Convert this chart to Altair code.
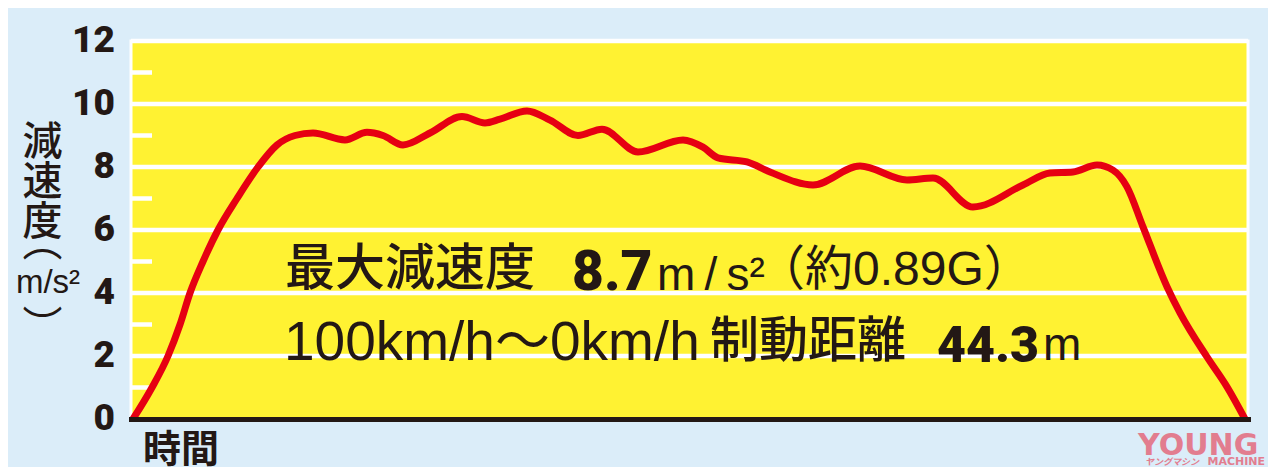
import altair as alt
import pandas as pd

# ---------------- data ----------------
time_steps = [2, 21, 37, 49, 59, 72, 87, 106, 127, 146, 164, 182, 214, 236, 252, 272, 299,
              331, 354, 369, 396, 419, 447, 471, 507, 552, 572, 587, 616, 639, 682,
              729, 776, 802, 842, 892, 919, 942, 966, 982, 996, 1012, 1036, 1049,
              1076, 1096, 1114]
decel = [0.0, 1.0, 2.0, 3.0, 4.0, 5.0, 6.0, 7.0, 8.0, 8.7, 9.0, 9.08, 8.86, 9.1, 9.0, 8.7, 9.08,
         9.6, 9.4, 9.52, 9.78, 9.49, 9.0, 9.2, 8.48, 8.86, 8.63, 8.29, 8.16, 7.84, 7.43,
         8.03, 7.59, 7.65, 6.73, 7.43, 7.81, 7.84, 8.06, 7.9, 7.37, 6.1, 4.2, 3.37,
         1.97, 1.02, 0.0]
time_range = [0, 1117]
y_range = [0, 12]
major_ticks = [0, 2, 4, 6, 8, 10, 12]
grid_values = [2, 4, 6, 8, 10, 12]
minor_ticks = [1, 3, 5, 7, 9, 11]

# ---------------- styles ----------------
YELLOW = "#fff232"
RED = "#e60012"
BLUE_BG = "#dbedf9"
INK = "#231815"
PINK = "#e27d8f"
CJK = "Noto Sans CJK JP"
SANS = "Liberation Sans, Noto Sans CJK JP"
HEAVY = "Roboto, Liberation Sans"

W, H = 1117, 378

x_scale = alt.Scale(domain=time_range, nice=False, zero=False)
y_scale = alt.Scale(domain=y_range, nice=False)

curve = pd.DataFrame({"t": time_steps, "a": decel})
grid_df = pd.DataFrame({"v": grid_values})
minor_df = pd.DataFrame({"v": minor_ticks})
tick_df = pd.DataFrame({"v": major_ticks})

grid = alt.Chart(grid_df).mark_rule(color="white", strokeWidth=4.5).encode(
    y=alt.Y("v:Q", scale=y_scale, axis=None)
)
minor = alt.Chart(minor_df).mark_rule(color="white", strokeWidth=4.5).encode(
    y=alt.Y("v:Q", scale=y_scale, axis=None),
    x=alt.value(0),
    x2=alt.value(21),
)

line = alt.Chart(curve).mark_line(color=RED, strokeWidth=7, interpolate="monotone").encode(
    x=alt.X("t:Q", scale=x_scale,
            axis=alt.Axis(title=None, labels=False, ticks=False, grid=False,
                          domainColor=INK, domainWidth=5, domainCap="square", zindex=1)),
    y=alt.Y("a:Q", scale=y_scale,
            axis=alt.Axis(title=None, labels=False, ticks=False, grid=False,
                          domainColor=INK, domainWidth=5, domainCap="square", zindex=1)),
)

ylabels = alt.Chart(tick_df).mark_text(
    align="right", baseline="middle", font=HEAVY, fontSize=37, fontWeight=900, color=INK
).encode(
    y=alt.Y("v:Q", scale=y_scale, axis=None),
    x=alt.value(-16),
    text=alt.Text("v:Q", format="d"),
)


def label(text, x, y, size, font, weight="normal", align="left",
          baseline="alphabetic", color=INK, angle=0, style="normal"):
    return alt.Chart(pd.DataFrame({"k": [0]})).mark_text(
        text=text, font=font, fontSize=size, fontWeight=weight, align=align,
        baseline=baseline, color=color, angle=angle, fontStyle=style,
    ).encode(x=alt.value(x), y=alt.value(y))


texts = [
    # annotation line 1
    label("最大減速度", 154, 244, 50, CJK, weight=500),
    label("8.7", 441, 249, 55, HEAVY, weight=900),
    label("m\u2009/\u2009s²", 526, 249, 46, SANS),
    label("（約0.89G）", 626, 244, 48, SANS),
    # annotation line 2
    label("100km/h～0km/h", 153, 319, 55, SANS),
    label("制動距離", 579, 316, 49, CJK, weight=500),
    label("44.3", 806, 321, 50, HEAVY, weight=900),
    label("m", 912, 319, 46, SANS),
    # y title (vertical)
    label("減", -88.5, 114, 40, CJK, weight=500, align="center"),
    label("速", -88.5, 154, 40, CJK, weight=500, align="center"),
    label("度", -88.5, 194, 40, CJK, weight=500, align="center"),
    label("︵", -88.5, 215, 40, CJK, align="center"),
    label("m/s²", -83, 252, 33, SANS, align="center"),
    label("︶", -88.5, 299, 40, CJK, align="center"),
    # x title
    label("時間", 12, 421, 38, CJK, weight="bold"),
    # logo
    label("YOUNG", 1007, 414, 30, "DejaVu Sans", weight="bold", color=PINK),
    label("MACHINE", 1134, 424, 11, "DejaVu Sans", weight="bold", align="right", color=PINK),
    label("ヤングマシン", 1068, 424, 9, CJK, weight="bold", align="right", color=PINK, style="italic"),
]

chart = alt.layer(grid, minor, line, ylabels, *texts).properties(
    width=W,
    height=H,
    padding={"left": 123, "top": 33, "right": 20, "bottom": 48},
    autosize=alt.AutoSizeParams(type="none"),
    background=BLUE_BG,
).configure_view(
    fill=YELLOW, stroke="white", strokeWidth=3
)

chart.save("out.html", embed_options={"renderer": "svg", "actions": False})
